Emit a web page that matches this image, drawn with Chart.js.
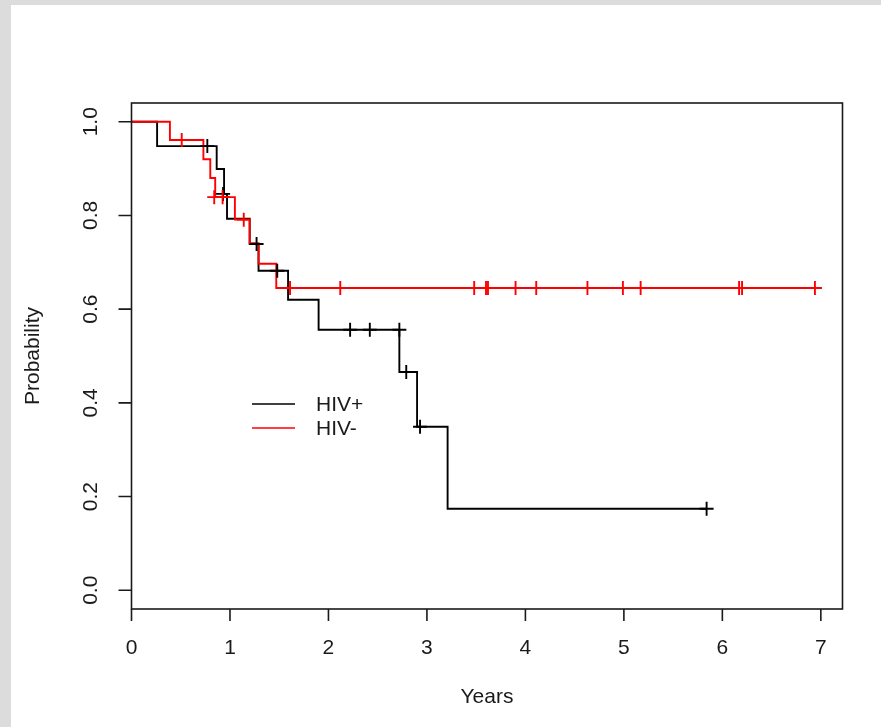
<!DOCTYPE html>
<html>
<head>
<meta charset="utf-8">
<script src="https://cdn.jsdelivr.net/npm/chart.js@4"></script>
<style>
    html, body { margin: 0; padding: 0; background: #dcdcdc; width: 881px; height: 727px; overflow: hidden; }
    #wrap { position: absolute; left: 11px; top: 5px; width: 870px; height: 722px; background: #fff; }
    canvas { display: block; }
</style>
</head>
<body>
<div id="wrap"><canvas id="km" width="870" height="722"></canvas></div>
<script>
// Kaplan-Meier curves, HIV+ vs HIV-
const hivPosTimes = [0, 0.26, 0.865, 0.94, 0.97, 1.20, 1.29, 1.59, 1.90, 2.72, 2.90, 3.21, 5.84];
const hivPosSurv  = [1.0, 0.948, 0.899, 0.846, 0.793, 0.739, 0.682, 0.620, 0.556, 0.466, 0.349, 0.174, 0.174];
const hivPosCensorTimes = [0.77, 0.93, 1.27, 1.48, 2.22, 2.42, 2.72, 2.79, 2.93, 5.84];
const hivPosCensorSurv  = [0.948, 0.846, 0.739, 0.682, 0.556, 0.556, 0.556, 0.466, 0.349, 0.174];

const hivNegTimes = [0, 0.39, 0.73, 0.80, 0.85, 1.05, 1.20, 1.29, 1.47, 6.94];
const hivNegSurv  = [1.0, 0.961, 0.920, 0.880, 0.839, 0.791, 0.741, 0.697, 0.645, 0.645];
const hivNegCensorTimes = [0.51, 0.84, 0.925, 1.14, 1.61, 2.12, 3.48, 3.60, 3.62, 3.90, 4.11, 4.63, 4.99, 5.17, 6.17, 6.20, 6.94];
const hivNegCensorSurv  = [0.961, 0.839, 0.839, 0.791, 0.645, 0.645, 0.645, 0.645, 0.645, 0.645, 0.645, 0.645, 0.645, 0.645, 0.645, 0.645, 0.645];

const xTicks = [0, 1, 2, 3, 4, 5, 6, 7];
const yTicks = [0, 0.2, 0.4, 0.6, 0.8, 1.0];
const yTickLabels = ['0.0', '0.2', '0.4', '0.6', '0.8', '1.0'];
const legendLabels = ['HIV+', 'HIV-'];
const seriesColors = ['#000000', '#ff0000'];

function toPoints(xs, ys) {
    return xs.map((x, i) => ({ x: x, y: ys[i] }));
}

const FONT = '21px "Liberation Sans", Arial, sans-serif';
const INK = '#1a1a1a';

// R-style box, axes, labels and legend
const rAxes = {
    id: 'rAxes',
    afterDraw(chart) {
        const ctx = chart.ctx;
        const a = chart.chartArea;
        const xs = chart.scales.x;
        const ys = chart.scales.y;
        ctx.save();
        ctx.strokeStyle = INK;
        ctx.lineWidth = 1.6;
        ctx.strokeRect(a.left, a.top, a.right - a.left, a.bottom - a.top);

        ctx.fillStyle = INK;
        ctx.font = FONT;
        ctx.textAlign = 'center';
        ctx.textBaseline = 'middle';

        // x axis
        ctx.beginPath();
        xTicks.forEach(v => {
            const px = xs.getPixelForValue(v);
            ctx.moveTo(px, a.bottom);
            ctx.lineTo(px, a.bottom + 12);
        });
        ctx.stroke();
        xTicks.forEach(v => {
            ctx.fillText(String(v), xs.getPixelForValue(v), a.bottom + 39);
        });
        ctx.fillText('Years', (a.left + a.right) / 2, a.bottom + 88);

        // y axis
        ctx.beginPath();
        yTicks.forEach(v => {
            const py = ys.getPixelForValue(v);
            ctx.moveTo(a.left, py);
            ctx.lineTo(a.left - 13, py);
        });
        ctx.stroke();
        yTicks.forEach((v, i) => {
            ctx.save();
            ctx.translate(a.left - 40, ys.getPixelForValue(v));
            ctx.rotate(-Math.PI / 2);
            ctx.fillText(yTickLabels[i], 0, 0);
            ctx.restore();
        });
        ctx.save();
        ctx.translate(22, (a.top + a.bottom) / 2);
        ctx.rotate(-Math.PI / 2);
        ctx.fillText('Probability', 0, 0);
        ctx.restore();

        // legend
        ctx.textAlign = 'left';
        legendLabels.forEach((lab, i) => {
            const y = 399 + i * 24;
            ctx.strokeStyle = seriesColors[i];
            ctx.lineWidth = 1.6;
            ctx.beginPath();
            ctx.moveTo(241, y);
            ctx.lineTo(284, y);
            ctx.stroke();
            ctx.fillStyle = INK;
            ctx.fillText(lab, 305, y + 1);
        });
        ctx.restore();
    }
};

new Chart(document.getElementById('km').getContext('2d'), {
    type: 'scatter',
    data: {
        datasets: [
            {
                label: 'HIV+',
                data: toPoints(hivPosTimes, hivPosSurv),
                showLine: true,
                stepped: 'before',
                borderColor: seriesColors[0],
                borderWidth: 1.9,
                pointRadius: 0,
                order: 3
            },
            {
                label: 'HIV-',
                data: toPoints(hivNegTimes, hivNegSurv),
                showLine: true,
                stepped: 'before',
                borderColor: seriesColors[1],
                borderWidth: 1.9,
                pointRadius: 0,
                order: 2
            },
            {
                label: 'HIV+ censored',
                data: toPoints(hivPosCensorTimes, hivPosCensorSurv),
                showLine: false,
                pointStyle: 'cross',
                pointRadius: 7,
                borderColor: seriesColors[0],
                borderWidth: 1.9,
                order: 1
            },
            {
                label: 'HIV- censored',
                data: toPoints(hivNegCensorTimes, hivNegCensorSurv),
                showLine: false,
                pointStyle: 'cross',
                pointRadius: 7,
                borderColor: seriesColors[1],
                borderWidth: 1.9,
                order: 0
            }
        ]
    },
    options: {
        responsive: false,
        animation: false,
        devicePixelRatio: 1,
        layout: { padding: { left: 120.5, right: 38.5, top: 98, bottom: 118 } },
        scales: {
            x: { type: 'linear', min: 0, max: 7.22, display: false },
            y: { type: 'linear', min: -0.04, max: 1.04, display: false }
        },
        plugins: {
            legend: { display: false },
            tooltip: { enabled: false }
        }
    },
    plugins: [rAxes]
});
</script>
</body>
</html>
